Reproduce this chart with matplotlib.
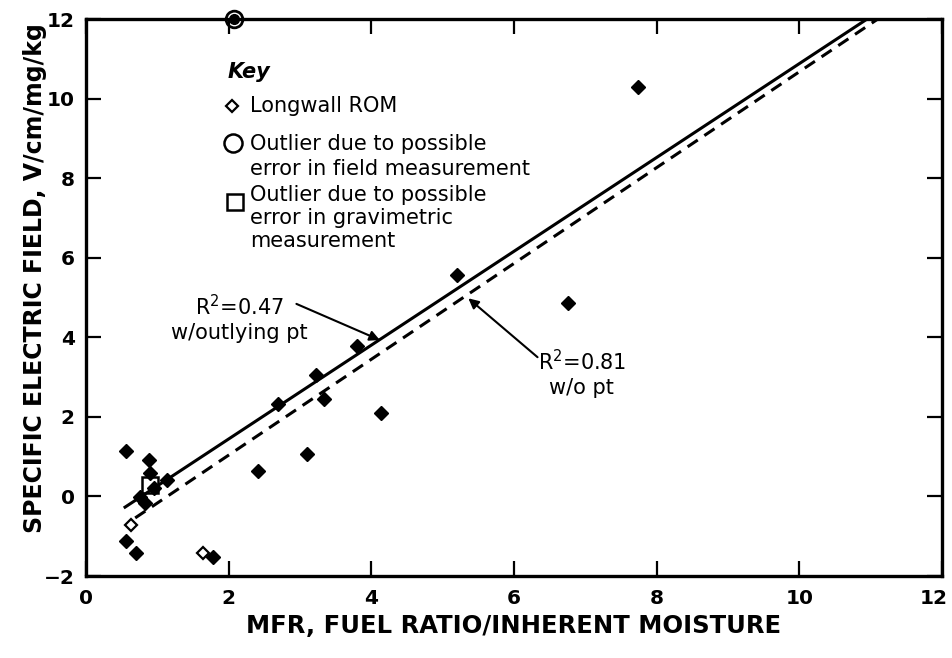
import matplotlib.pyplot as plt
import matplotlib.transforms as mtransforms
import numpy as np

# data
mfr_filled = [7.74, 5.20, 6.75, 3.80, 3.23, 2.69, 3.34, 4.14, 3.10, 2.41,
              0.56, 0.88, 0.90, 0.95, 1.13, 0.76, 0.83, 0.56, 0.70, 1.78]
sef_filled = [10.29, 5.56, 4.86, 3.78, 3.05, 2.32, 2.45, 2.10, 1.07, 0.64,
              1.14, 0.91, 0.59, 0.21, 0.41, -0.01, -0.17, -1.12, -1.42, -1.52]

mfr_longwall = [0.63, 1.64]
sef_longwall = [-0.72, -1.42]

mfr_field_outlier = [2.08]
sef_field_outlier = [12.0]
mfr_grav_outlier = [0.90]
sef_grav_outlier = [0.29]

# regression line endpoints
fit_all_x = [0.53, 10.95]
fit_all_y = [-0.29, 12.0]
fit_wo_x = [0.69, 11.1]
fit_wo_y = [-0.54, 12.0]

plt.rcParams['font.family'] = ['DejaVu Sans']

fig = plt.figure(figsize=(9.53, 6.58), dpi=100)
ax = fig.add_axes([0.0902, 0.1246, 0.8983, 0.8465])

ax.plot(fit_all_x, fit_all_y, color='black', lw=2.2, solid_capstyle='butt')
ax.plot(fit_wo_x, fit_wo_y, color='black', lw=2.2, ls=(0, (4, 2.6)))

ax.plot(mfr_filled, sef_filled, 'D', color='black', ms=7, ls='none')
ax.plot(mfr_longwall, sef_longwall, 'D', mfc='white', mec='black', mew=1.6, ms=6.5, ls='none')
# outliers (circled / boxed points)
ax.plot(mfr_field_outlier, sef_field_outlier, 'o', mfc='none', mec='black', mew=2, ms=12, clip_on=False, zorder=5)
ax.plot(mfr_field_outlier, sef_field_outlier, 'o', color='black', ms=7, clip_on=False, zorder=5)
ax.plot(mfr_grav_outlier, sef_grav_outlier, 's', mfc='none', mec='black', mew=1.8, ms=11)

# key
ax.text(1.98, 10.66, 'Key', fontsize=15, style='italic', fontweight='bold', va='center')
ax.plot([2.05], [9.81], 'D', mfc='white', mec='black', mew=1.6, ms=6)
ax.text(2.3, 9.81, 'Longwall ROM', fontsize=15, va='center')
ax.plot([2.06], [8.88], 'o', mfc='none', mec='black', mew=1.8, ms=13)
ax.text(2.3, 8.55, 'Outlier due to possible\nerror in field measurement',
        fontsize=15, va='center', linespacing=1.3)
ax.plot([2.09], [7.4], 's', mfc='none', mec='black', mew=1.8, ms=11)
ax.text(2.3, 7.0, 'Outlier due to possible\nerror in gravimetric\nmeasurement',
        fontsize=15, va='center', linespacing=1.2)

# annotations
ax.text(2.15, 4.48, 'R$^2$=0.47\nw/outlying pt', fontsize=15, ha='center', va='center',
        linespacing=1.25)
ax.annotate('', xy=(4.12, 3.93), xytext=(2.95, 4.84),
            arrowprops=dict(arrowstyle='-|>', color='black', lw=1.5,
                            shrinkA=0, shrinkB=0, mutation_scale=15))
ax.text(6.95, 3.1, 'R$^2$=0.81\nw/o pt', fontsize=15, ha='center', va='center',
        linespacing=1.25)
ax.annotate('', xy=(5.36, 4.98), xytext=(6.33, 3.5),
            arrowprops=dict(arrowstyle='-|>', color='black', lw=1.5,
                            shrinkA=0, shrinkB=0, mutation_scale=15))

ax.set_xlim(0, 12)
ax.set_ylim(-2, 12)
ax.set_xticks(np.arange(0, 13, 2))
ax.set_yticks(np.arange(-2, 13, 2))
ax.tick_params(direction='in', length=11, width=1.6, top=True, right=True,
               labelsize=14.5)
ax.tick_params(axis='x', pad=9)
ax.tick_params(axis='y', pad=8)
for lab in ax.get_xticklabels() + ax.get_yticklabels():
    lab.set_fontweight('bold')
# keep the last x label inside the figure
last = ax.get_xticklabels()[-1]
last.set_ha('right')
last.set_transform(last.get_transform() + mtransforms.ScaledTranslation(0.06, 0, fig.dpi_scale_trans))

for sp in ax.spines.values():
    sp.set_linewidth(2.4)

ax.set_xlabel('MFR, FUEL RATIO/INHERENT MOISTURE', fontsize=17.5, fontweight='bold', labelpad=5)
ax.set_ylabel('SPECIFIC ELECTRIC FIELD, V/cm/mg/kg', fontsize=17, fontweight='bold')
ax.yaxis.set_label_coords(-0.045, 0.535)

fig.savefig('out.png', dpi=100)
